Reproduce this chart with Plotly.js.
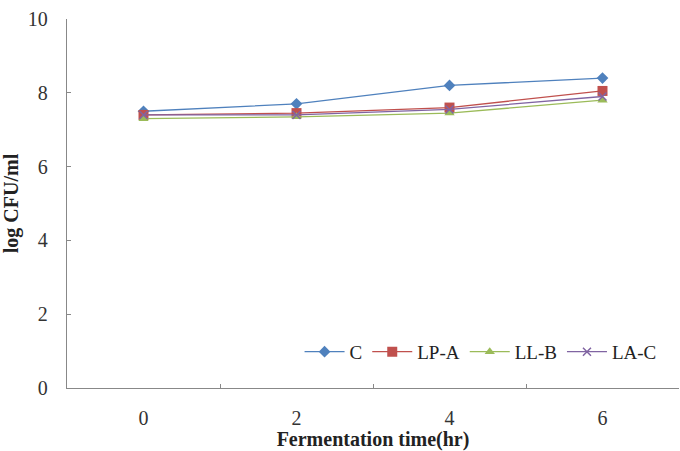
<!DOCTYPE html>
<html>
<head>
<meta charset="utf-8">
<script src="https://cdn.plot.ly/plotly-3.0.1.min.js"></script>
<style>html,body{margin:0;padding:0;background:#fff;}#chart{width:680px;height:451px;}</style>
</head>
<body>
<div id="chart"></div>
<script>
const categories = ["0", "2", "4", "6"];
const seriesNames = ["C", "LP-A", "LL-B", "LA-C"];
const valuesC = [7.5, 7.7, 8.2, 8.4];
const valuesLPA = [7.4, 7.45, 7.6, 8.05];
const valuesLLB = [7.3, 7.35, 7.45, 7.8];
const valuesLAC = [7.4, 7.4, 7.55, 7.9];
const yTicks = [0, 2, 4, 6, 8, 10];

const colors = ["#4F81BD", "#C0504D", "#9BBB59", "#8064A2"];
const symbols = ["diamond", "square", "triangle-up", "x-thin-open"];
const sizes = [9, 10, 9, 8];
const allValues = [valuesC, valuesLPA, valuesLLB, valuesLAC];

const traces = allValues.map((vals, i) => ({
  x: categories,
  y: vals,
  name: seriesNames[i],
  type: "scatter",
  mode: "lines+markers",
  line: {color: colors[i], width: 1.3},
  marker: {symbol: symbols[i], size: sizes[i], color: colors[i], line: {color: colors[i], width: i === 3 ? 1.5 : 0}}
}));

const serif = "Times New Roman";
const layout = {
  width: 680, height: 451,
  margin: {l: 67, r: 1, t: 19, b: 63},
  paper_bgcolor: "#fff", plot_bgcolor: "#fff",
  showlegend: true,
  legend: {
    orientation: "h", x: 0.38, y: 0.098, xanchor: "left", yanchor: "middle",
    font: {family: serif, size: 19, color: "#222"},
    bgcolor: "rgba(0,0,0,0)", itemwidth: 40, tracegroupgap: 0
  },
  xaxis: {
    type: "category",
    range: [-0.5, 3.5],
    tickson: "boundaries",
    ticks: "inside", ticklen: 4, tickcolor: "#888",
    showline: true, linecolor: "#888", linewidth: 1.2,
    showgrid: false, zeroline: false,
    ticklabelstandoff: 12,
    tickfont: {family: serif, size: 20, color: "#333"},
    title: {text: "<b>Fermentation time(hr)</b>", font: {family: serif, size: 20, color: "#222"}, standoff: 14}
  },
  yaxis: {
    range: [0, 10],
    tickvals: yTicks,
    ticks: "inside", ticklen: 4, tickcolor: "#888",
    showline: true, linecolor: "#888", linewidth: 1.2,
    showgrid: false, zeroline: false,
    ticklabelstandoff: 14,
    tickfont: {family: serif, size: 20, color: "#333"},
    title: {text: "<b>log CFU/ml</b>", font: {family: serif, size: 20, color: "#222"}, standoff: 12}
  }
};

Plotly.newPlot("chart", traces, layout, {displayModeBar: false, staticPlot: true});
</script>
</body>
</html>
